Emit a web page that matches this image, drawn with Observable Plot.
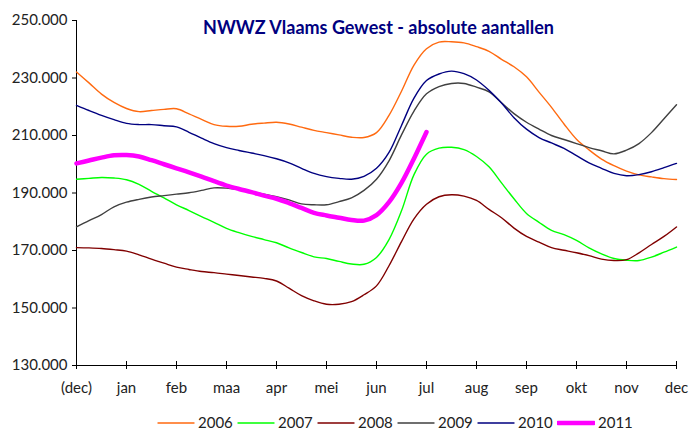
<!DOCTYPE html>
<html>
<head>
<meta charset="utf-8">
<script src="https://cdn.jsdelivr.net/npm/d3@7"></script>
<script src="https://cdn.jsdelivr.net/npm/@observablehq/plot@0.6"></script>
<style>
  html, body { margin: 0; padding: 0; background: #fff; }
  #chart { position: relative; width: 690px; height: 430px; overflow: hidden; font-family: Lato, "Open Sans", sans-serif; }
  #legend { position: absolute; left: 157px; top: 415px; display: flex; font-size: 15px; color: #222; line-height: 15px; height: 15px; }
  .item { width: 80px; display: flex; align-items: center; }
  .item svg { margin-right: 3px; }
</style>
</head>
<body>
<div id="chart"></div>
<script>
// Month tick labels (x = months since previous December)
const monthLabels = ["(dec)", "jan", "feb", "maa", "apr", "mei", "jun", "jul", "aug", "sep", "okt", "nov", "dec"];
const yTicks = [130000, 150000, 170000, 190000, 210000, 230000, 250000];
const title = "NWWZ Vlaams Gewest - absolute aantallen";
const years = ["2006", "2007", "2008", "2009", "2010", "2011"];
const colors = ["#FF6A10", "#00FF00", "#800000", "#404040", "#000080", "#FF00FF"];
const widths = [1.4, 1.4, 1.4, 1.4, 1.4, 4.5];
const step = 0.25; // quarter-month sampling

// values in thousands, sampled every quarter month from (dec) to dec
const v2006 = [232.1,228.3,224.4,221.5,219.4,218.3,218.7,219.1,219.3,217.5,215.6,213.8,213.2,213.2,213.9,214.3,214.6,214.0,212.9,211.8,211.0,210.2,209.4,209.3,211.0,217.0,225.4,234.5,240.2,242.5,242.6,242.2,240.9,239.3,236.5,233.9,230.4,225.1,219.8,214.0,208.7,205.0,201.8,199.5,197.6,196.3,195.6,195.0,194.7];
const v2007 = [194.8,195.1,195.4,195.2,194.6,193.0,190.6,188.3,185.9,183.9,181.8,179.8,177.7,176.2,174.9,173.8,172.7,170.9,169.3,167.8,167.2,166.2,165.3,165.2,167.6,173.8,183.8,196.4,203.5,205.6,205.9,205.1,202.7,199.1,193.5,188.0,182.9,179.8,177.0,175.5,173.5,170.9,168.8,167.2,166.6,166.5,167.7,169.4,171.2];
const v2008 = [171.0,170.9,170.7,170.3,169.8,168.5,167.0,165.6,164.2,163.4,162.7,162.3,161.8,161.3,160.8,160.3,159.4,156.9,154.3,152.5,151.3,151.3,152.2,154.6,157.7,164.7,173.1,181.0,186.1,188.7,189.4,188.9,187.4,184.3,181.4,177.8,174.9,172.9,171.0,170.1,169.2,168.2,167.0,166.5,166.8,169.2,172.1,174.9,178.2];
const v2009 = [178.2,180.4,182.5,185.2,186.8,187.8,188.6,189.1,189.6,190.1,190.9,191.8,191.7,191.1,190.4,189.6,188.7,187.6,186.2,185.9,185.9,187.0,188.3,190.9,194.8,201.2,210.2,218.5,224.5,227.0,228.1,228.1,226.8,225.2,221.4,217.6,214.6,212.2,210.0,208.6,207.2,205.8,204.7,203.6,204.9,207.2,211.0,215.8,220.7];
const v2010 = [220.5,218.7,217.0,215.5,214.2,213.8,213.8,213.4,213.0,211.1,209.1,207.2,205.8,204.8,203.9,203.0,201.9,200.5,198.6,196.8,195.7,195.1,194.8,195.8,198.6,204.1,213.5,223.0,229.1,231.4,232.4,231.5,229.3,225.7,221.3,216.2,212.2,209.3,207.4,205.5,203.0,200.5,198.6,196.8,196.0,196.4,197.4,198.8,200.3];
const v2011 = [200.3,201.3,202.3,203.1,203.2,202.7,201.4,200.0,198.6,197.2,195.7,194.1,192.6,191.4,190.3,189.1,188.0,186.5,184.8,183.1,182.2,181.4,180.6,180.4,182.3,186.8,193.5,202.0,211.2];

const seriesValues = [v2006, v2007, v2008, v2009, v2010, v2011];
const data = seriesValues.flatMap((vals, s) =>
  vals.map((v, i) => ({year: years[s], t: i * step, value: v * 1000})));

const nl = d3.formatLocale({decimal: ",", thousands: ".", grouping: [3], currency: ["€", ""]});
const fmt = nl.format(",");

const lineMarks = years.map((yr, s) =>
  Plot.line(data.filter(d => d.year === yr), {
    x: "t", y: "value", stroke: colors[s], strokeWidth: widths[s],
    curve: "catmull-rom", strokeLinejoin: "round", strokeLinecap: "round"
  }));

const plot = Plot.plot({
  width: 690,
  height: 410,
  marginLeft: 76,
  marginRight: 14,
  marginTop: 20,
  marginBottom: 45,
  style: {fontFamily: "Lato, 'Open Sans', sans-serif", fontSize: "15px", color: "#222", background: "white", overflow: "visible"},
  x: {domain: [0, 12]},
  y: {domain: [130000, 250000]},
  marks: [
    Plot.axisY({ticks: yTicks, tickFormat: fmt, tickSize: 4, tickPadding: 5, label: null, stroke: "#000", strokeOpacity: 1, fontSize: 15}),
    Plot.axisX({ticks: d3.range(13), tickFormat: i => monthLabels[i], tickSize: 8, dy: -4, tickPadding: 13, label: null, stroke: "#000", strokeOpacity: 1, fontSize: 15}),
    Plot.ruleX([0], {stroke: "#000"}),
    Plot.ruleY([130000], {stroke: "#000"}),
    ...lineMarks,
    Plot.text([title], {frameAnchor: "top", lineAnchor: "middle", dy: 8, dx: 2, fill: "#000080", fontWeight: "bold", fontSize: 18, text: d => d})
  ]
});
const chart = document.getElementById("chart");
chart.appendChild(plot);

// legend below the plot
const legend = document.createElement("div");
legend.id = "legend";
years.forEach((yr, s) => {
  const item = document.createElement("div");
  item.className = "item";
  item.innerHTML = `<svg width="38" height="10"><line x1="1" x2="37" y1="5" y2="5" stroke="${colors[s]}" stroke-width="${widths[s]}" stroke-linecap="round"/></svg><span>${yr}</span>`;
  legend.appendChild(item);
});
chart.appendChild(legend);
</script>
</body>
</html>
